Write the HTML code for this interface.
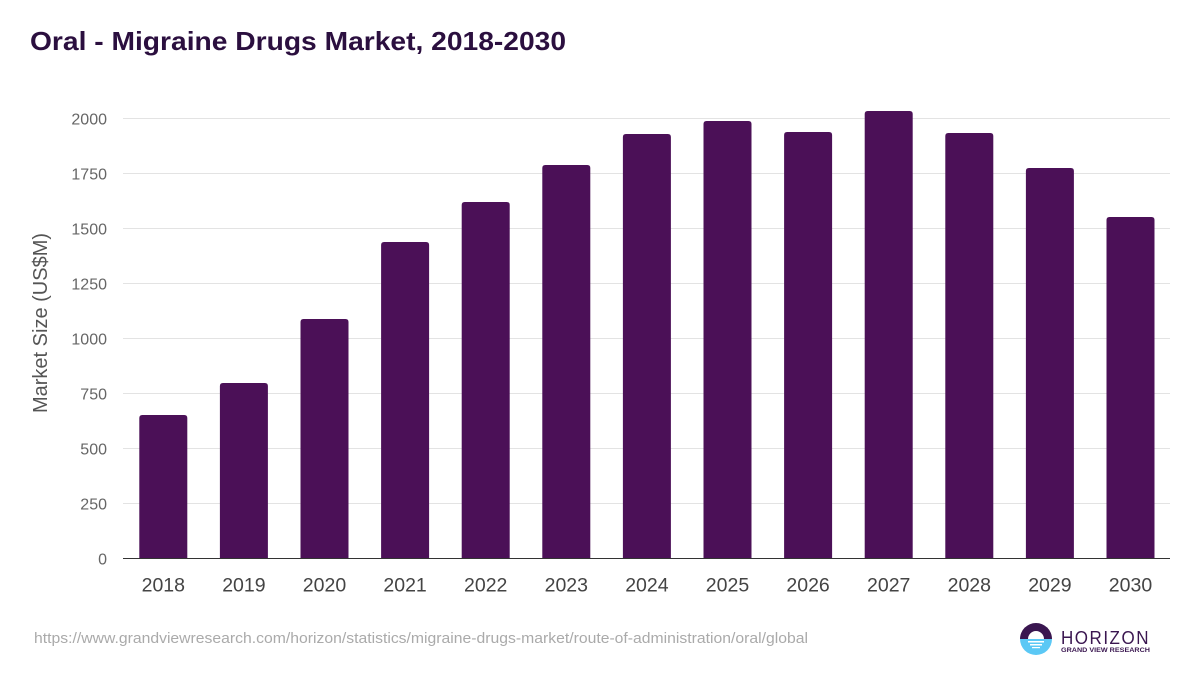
<!DOCTYPE html>
<html>
<head>
<meta charset="utf-8">
<style>
  html, body { margin: 0; padding: 0; background: #fff; }
  svg { display: block; font-family: "Liberation Sans", Arial, sans-serif; }
</style>
</head>
<body>
<svg width="1200" height="675" viewBox="0 0 1200 675" xmlns="http://www.w3.org/2000/svg">
  <rect width="1200" height="675" fill="#fff"/>
  <text x="30" y="50" font-size="26" font-weight="bold" fill="#2b0f3f" textLength="536" lengthAdjust="spacingAndGlyphs">Oral - Migraine Drugs Market, 2018-2030</text>

  <!-- gridlines -->
  <g stroke="#e3e3e3" stroke-width="1">
    <line x1="123" x2="1170" y1="118.5" y2="118.5"/>
    <line x1="123" x2="1170" y1="173.5" y2="173.5"/>
    <line x1="123" x2="1170" y1="228.5" y2="228.5"/>
    <line x1="123" x2="1170" y1="283.5" y2="283.5"/>
    <line x1="123" x2="1170" y1="338.5" y2="338.5"/>
    <line x1="123" x2="1170" y1="393.5" y2="393.5"/>
    <line x1="123" x2="1170" y1="448.5" y2="448.5"/>
    <line x1="123" x2="1170" y1="503.5" y2="503.5"/>
  </g>

  <!-- y tick labels -->
  <g font-size="16" fill="#666" text-anchor="end">
    <text x="107" y="124.5">2000</text>
    <text x="107" y="179.5">1750</text>
    <text x="107" y="234.5">1500</text>
    <text x="107" y="289.5">1250</text>
    <text x="107" y="344.5">1000</text>
    <text x="107" y="399.5">750</text>
    <text x="107" y="454.5">500</text>
    <text x="107" y="509.5">250</text>
    <text x="107" y="564.5">0</text>
  </g>

  <text transform="translate(47,323) rotate(-90)" font-size="20" fill="#555" text-anchor="middle">Market Size (US$M)</text>

  <!-- bars -->
  <g fill="#4b1057">
    <path d="M139.3,558 V418 Q139.3,415 142.3,415 H184.3 Q187.3,415 187.3,418 V558 Z"/>
    <path d="M219.9,558 V386 Q219.9,383 222.9,383 H264.9 Q267.9,383 267.9,386 V558 Z"/>
    <path d="M300.5,558 V322 Q300.5,319 303.5,319 H345.5 Q348.5,319 348.5,322 V558 Z"/>
    <path d="M381.1,558 V245 Q381.1,242 384.1,242 H426.1 Q429.1,242 429.1,245 V558 Z"/>
    <path d="M461.7,558 V205 Q461.7,202 464.7,202 H506.7 Q509.7,202 509.7,205 V558 Z"/>
    <path d="M542.3,558 V168 Q542.3,165 545.3,165 H587.3 Q590.3,165 590.3,168 V558 Z"/>
    <path d="M622.9,558 V137 Q622.9,134 625.9,134 H667.9 Q670.9,134 670.9,137 V558 Z"/>
    <path d="M703.5,558 V124 Q703.5,121 706.5,121 H748.5 Q751.5,121 751.5,124 V558 Z"/>
    <path d="M784.1,558 V135 Q784.1,132 787.1,132 H829.1 Q832.1,132 832.1,135 V558 Z"/>
    <path d="M864.7,558 V114 Q864.7,111 867.7,111 H909.7 Q912.7,111 912.7,114 V558 Z"/>
    <path d="M945.3,558 V136 Q945.3,133 948.3,133 H990.3 Q993.3,133 993.3,136 V558 Z"/>
    <path d="M1025.9,558 V171 Q1025.9,168 1028.9,168 H1070.9 Q1073.9,168 1073.9,171 V558 Z"/>
    <path d="M1106.5,558 V220 Q1106.5,217 1109.5,217 H1151.5 Q1154.5,217 1154.5,220 V558 Z"/>
  </g>

  <line x1="123" x2="1170" y1="558.5" y2="558.5" stroke="#333" stroke-width="1"/>

  <!-- x labels -->
  <g font-size="19.5" fill="#444" text-anchor="middle">
    <text x="163.3" y="591.5">2018</text>
    <text x="243.9" y="591.5">2019</text>
    <text x="324.5" y="591.5">2020</text>
    <text x="405.1" y="591.5">2021</text>
    <text x="485.7" y="591.5">2022</text>
    <text x="566.3" y="591.5">2023</text>
    <text x="646.9" y="591.5">2024</text>
    <text x="727.5" y="591.5">2025</text>
    <text x="808.1" y="591.5">2026</text>
    <text x="888.7" y="591.5">2027</text>
    <text x="969.3" y="591.5">2028</text>
    <text x="1049.9" y="591.5">2029</text>
    <text x="1130.5" y="591.5">2030</text>
  </g>

  <text x="34" y="643" font-size="15" fill="#aaa" textLength="774" lengthAdjust="spacingAndGlyphs">https://www.grandviewresearch.com/horizon/statistics/migraine-drugs-market/route-of-administration/oral/global</text>

  <!-- logo -->
  <g>
    <path d="M1020,639 A16,16 0 0 1 1052,639 Z" fill="#3a1650"/>
    <path d="M1020,639 A16,16 0 0 0 1052,639 Z" fill="#5bc8f5"/>
    <path d="M1028,639 A8,8 0 0 1 1044,639 Z" fill="#fff"/>
    <rect x="1028" y="641" width="16" height="1.5" fill="#fff"/>
    <rect x="1030" y="644" width="12" height="1.5" fill="#fff"/>
    <rect x="1032" y="647" width="8" height="1.2" fill="#fff"/>
  </g>
  <text x="1061" y="644" font-size="18" fill="#3a1650" letter-spacing="1.6" textLength="89" lengthAdjust="spacingAndGlyphs">HORIZON</text>
  <text x="1061" y="652" font-size="6.5" font-weight="bold" fill="#3a1650" textLength="89" lengthAdjust="spacingAndGlyphs">GRAND VIEW RESEARCH</text>
</svg>
</body>
</html>
